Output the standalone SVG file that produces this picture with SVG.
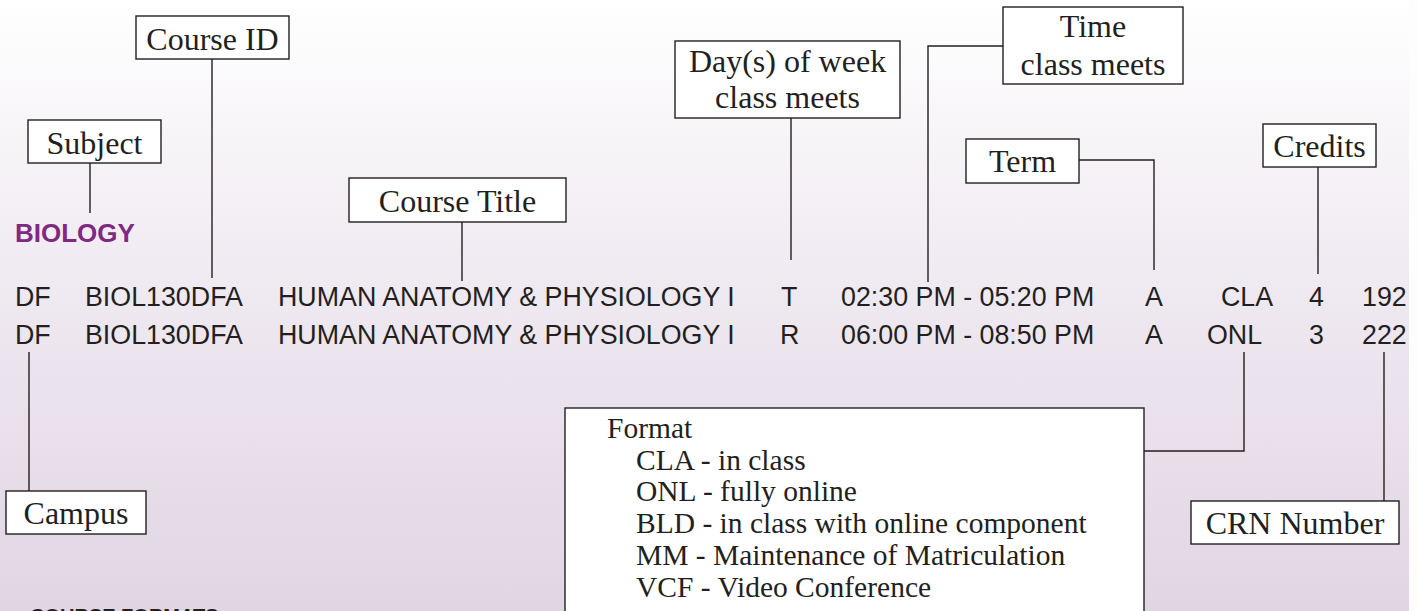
<svg xmlns="http://www.w3.org/2000/svg" width="1418" height="611" viewBox="0 0 1418 611">
<defs>
<linearGradient id="bg" x1="0" y1="0" x2="0" y2="1">
<stop offset="0" stop-color="#ffffff"/>
<stop offset="0.5" stop-color="#eee8f0"/>
<stop offset="1" stop-color="#e1d5e4"/>
</linearGradient>
</defs>
<style>
.box{fill:#ffffff;stroke:#231f20;stroke-width:1.4}
.lbl{font-family:"Liberation Serif","Times New Roman",serif;font-size:32px;fill:#231f20;text-anchor:middle}
.fmt{font-family:"Liberation Serif","Times New Roman",serif;font-size:29.5px;fill:#231f20}
.row{font-family:"Liberation Sans",Arial,sans-serif;font-size:26.8px;fill:#231f20}
.ln{fill:none;stroke:#231f20;stroke-width:1.4}
</style>
<rect x="0" y="0" width="1409" height="611" fill="url(#bg)"/>
<rect x="1409" y="0" width="9" height="611" fill="#fdfdfd"/>

<g id="connectors">
<path class="ln" d="M90 163V213"/>
<path class="ln" d="M212 59V278"/>
<path class="ln" d="M462 222V281"/>
<path class="ln" d="M791 118V260"/>
<path class="ln" d="M1003 46H928V282"/>
<path class="ln" d="M1079 160H1154V270"/>
<path class="ln" d="M1318 167V274"/>
<path class="ln" d="M29 352V491"/>
<path class="ln" d="M1244 352V451H1144"/>
<path class="ln" d="M1384 352V501"/>
</g>

<g id="subject"><rect class="box" x="28" y="120" width="133" height="43"/><text class="lbl" x="94.5" y="154">Subject</text></g>
<g id="course-id"><rect class="box" x="136" y="16" width="153" height="43"/><text class="lbl" x="212.5" y="50">Course ID</text></g>
<g id="course-title"><rect class="box" x="349" y="178" width="217" height="44"/><text class="lbl" x="457.5" y="212">Course Title</text></g>
<g id="days"><rect class="box" x="675" y="41" width="225" height="77"/><text class="lbl" x="787.5" y="72">Day(s) of week</text><text class="lbl" x="787.5" y="108">class meets</text></g>
<g id="time"><rect class="box" x="1003" y="7" width="180" height="77"/><text class="lbl" x="1093" y="37">Time</text><text class="lbl" x="1093" y="75">class meets</text></g>
<g id="term"><rect class="box" x="966" y="139" width="113" height="44"/><text class="lbl" x="1022.5" y="172">Term</text></g>
<g id="credits"><rect class="box" x="1263" y="124" width="113" height="43"/><text class="lbl" x="1319.5" y="157">Credits</text></g>
<g id="campus"><rect class="box" x="6" y="491" width="140" height="43"/><text class="lbl" x="76" y="524">Campus</text></g>
<g id="crn"><rect class="box" x="1191" y="501" width="208" height="43"/><text class="lbl" x="1295" y="534">CRN Number</text></g>
<g id="format"><rect class="box" x="565" y="408" width="579" height="220"/>
<text class="fmt" x="607" y="438">Format</text>
<text class="fmt" x="636" y="470">CLA - in class</text>
<text class="fmt" x="636" y="501">ONL - fully online</text>
<text class="fmt" x="636" y="533">BLD - in class with online component</text>
<text class="fmt" x="636" y="565">MM - Maintenance of Matriculation</text>
<text class="fmt" x="636" y="597">VCF - Video Conference</text>
</g>

<g id="listing">
<text x="15" y="242" font-family="'Liberation Sans',Arial,sans-serif" font-size="26" font-weight="bold" fill="#7e2a83">BIOLOGY</text>
<text class="row" x="15" y="306">DF</text>
<text class="row" x="85" y="306">BIOL130DFA</text>
<text class="row" x="278" y="306">HUMAN ANATOMY &amp; PHYSIOLOGY I</text>
<text class="row" x="781" y="306">T</text>
<text class="row" x="841" y="306">02:30 PM - 05:20 PM</text>
<text class="row" x="1145" y="306">A</text>
<text class="row" x="1221" y="306">CLA</text>
<text class="row" x="1309" y="306">4</text>
<text class="row" x="1362" y="306">192</text>
<text class="row" x="15" y="344">DF</text>
<text class="row" x="85" y="344">BIOL130DFA</text>
<text class="row" x="278" y="344">HUMAN ANATOMY &amp; PHYSIOLOGY I</text>
<text class="row" x="780" y="344">R</text>
<text class="row" x="841" y="344">06:00 PM - 08:50 PM</text>
<text class="row" x="1145" y="344">A</text>
<text class="row" x="1207" y="344">ONL</text>
<text class="row" x="1309" y="344">3</text>
<text class="row" x="1362" y="344">222</text>
<text x="30" y="623" font-family="'Liberation Sans',Arial,sans-serif" font-size="20" font-weight="bold" fill="#231f20">COURSE FORMATS</text>
</g>
</svg>
